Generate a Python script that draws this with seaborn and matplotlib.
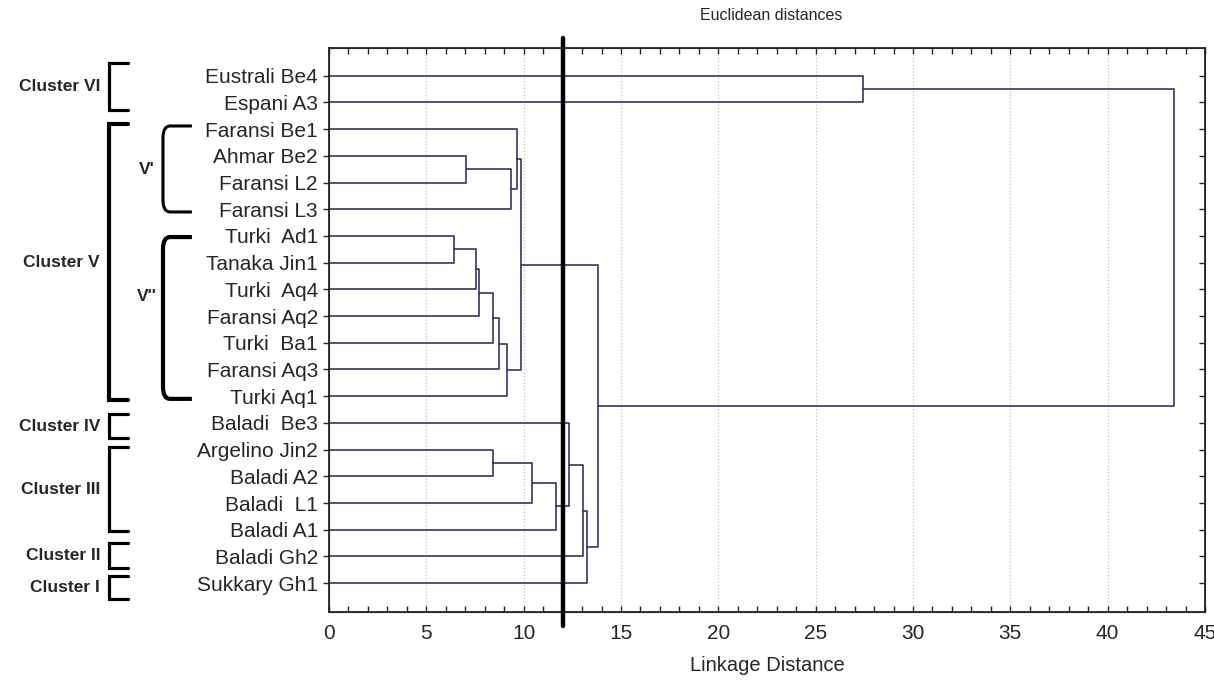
import matplotlib
matplotlib.use("Agg")
import pandas as pd
import matplotlib.pyplot as plt
import matplotlib.transforms as mtransforms
import seaborn as sns
from matplotlib import font_manager
from matplotlib.path import Path
from matplotlib.patches import PathPatch
from matplotlib.ticker import MultipleLocator

# leaves, top to bottom
leaves = [
    "Eustrali Be4", "Espani A3", "Faransi Be1", "Ahmar Be2", "Faransi L2",
    "Faransi L3", "Turki  Ad1", "Tanaka Jin1", "Turki  Aq4", "Faransi Aq2",
    "Turki  Ba1", "Faransi Aq3", "Turki Aq1", "Baladi  Be3", "Argelino Jin2",
    "Baladi A2", "Baladi  L1", "Baladi A1", "Baladi Gh2", "Sukkary Gh1",
]

# linkage: node n+k joins merge_left[k] and merge_right[k] at merge_height[k]
merge_left = [3, 20, 2, 6, 23, 24, 25, 26, 27, 22, 14, 30, 31, 13, 33, 34, 29, 0, 37]
merge_right = [4, 5, 21, 7, 8, 9, 10, 11, 12, 28, 15, 16, 17, 32, 18, 19, 35, 1, 36]
merge_height = [7.02, 9.33, 9.67, 6.40, 7.57, 7.69, 8.44, 8.73, 9.13, 9.86,
                8.44, 10.43, 11.64, 12.31, 13.06, 13.25, 13.82, 27.41, 43.42]

cut_distance = 12.0

cluster_names = ["Cluster VI", "Cluster V", "Cluster IV", "Cluster III", "Cluster II", "Cluster I"]
cluster_spans = [(0.52, 2.28), (2.81, 13.15), (13.67, 14.57), (14.91, 18.06), (18.5, 19.44), (19.74, 20.6)]
sub_names = ["V'", "V''"]
sub_spans = [(2.88, 6.1), (7.04, 13.1)]
sub_label_pos = [4.5, 9.28]

sns.set_style("white")
available = {f.name for f in font_manager.fontManager.ttflist}
narrow = "Liberation Sans Narrow" if "Liberation Sans Narrow" in available else "Liberation Sans"
plt.rcParams["font.family"] = ["Liberation Sans", "DejaVu Sans"]

# build the dendrogram segments
n = len(leaves)
ypos = {i: i + 1 for i in range(n)}
xpos = {i: 0.0 for i in range(n)}
rows = []
for k, (a, b, h) in enumerate(zip(merge_left, merge_right, merge_height)):
    rows += [(k, xpos[a], ypos[a]), (k, h, ypos[a]), (k, h, ypos[b]), (k, xpos[b], ypos[b])]
    ypos[n + k] = (ypos[a] + ypos[b]) / 2
    xpos[n + k] = h
df = pd.DataFrame(rows, columns=["merge", "distance", "leaf_pos"])

fig = plt.figure(figsize=(12.14, 6.81), dpi=100)
ax = fig.add_axes([0.2710, 0.1018, 0.7216, 0.8273])

ax.grid(False)
for g in range(5, 45, 5):
    ax.axvline(g, color="#c4c4c4", ls=":", lw=0.9, zorder=0)

sns.lineplot(data=df, x="distance", y="leaf_pos", units="merge", estimator=None,
             sort=False, color="#343463", lw=1.2, ax=ax)

ax.set_xlim(0, 45)
ax.set_ylim(21.07, -0.03)
ax.set_yticks(range(1, n + 1))
ax.set_yticklabels(leaves, fontsize=15, color="#262626")
ax.tick_params(axis="y", direction="out", length=4, width=1, pad=4, left=True, right=False)
ax.xaxis.set_major_locator(MultipleLocator(5))
ax.xaxis.set_minor_locator(MultipleLocator(1))
ax.tick_params(axis="x", which="both", direction="in", length=4, width=1,
               top=True, bottom=True, pad=9)
for lab in ax.get_xticklabels():
    lab.set_fontfamily(narrow)
    lab.set_fontsize(15)
ax.set_xlabel("Linkage Distance", fontsize=14.5, family=narrow, labelpad=9)
ax.set_ylabel("")
for sp in ax.spines.values():
    sp.set_visible(True)
    sp.set_color("black")
    sp.set_linewidth(1.1)

ax2 = ax.twinx()
ax2.set_ylim(ax.get_ylim())
ax2.set_yticks(range(1, n + 1))
ax2.tick_params(axis="y", direction="in", length=4, width=1, labelright=False)
ax2.grid(False)

# cut line
ax.axvline(cut_distance, ymin=-0.025, ymax=1.018, color="black", lw=3.2, clip_on=False, zorder=5)

fig.text(0.635, 1 - 15 / 681, "Euclidean distances", ha="center", va="center", fontsize=11.5)

blend = mtransforms.blended_transform_factory(ax.transAxes, ax.transData)

# cluster brackets
x_v, x_end = -0.2515, -0.2295
for name, (top, bot) in zip(cluster_names, cluster_spans):
    lw = 3.0 if name == "Cluster V" else 2.3
    ax.plot([x_end, x_v, x_v, x_end], [top, top, bot, bot], color="black", lw=lw,
            transform=blend, clip_on=False, solid_joinstyle="miter")
    ax.text(-0.2614, (top + bot) / 2, name, transform=blend, ha="right", va="center",
            fontsize=12.5, fontweight="bold")

# rounded sub-brackets
sx_v, sx_end, rx, ry = -0.1895, -0.1565, 0.008, 0.45
for name, (top, bot), ly, lw in zip(sub_names, sub_spans, sub_label_pos, [2.2, 3.0]):
    verts = [(sx_end, top), (sx_v + rx, top), (sx_v, top), (sx_v, top + ry),
             (sx_v, bot - ry), (sx_v, bot), (sx_v + rx, bot), (sx_end, bot)]
    codes = [Path.MOVETO, Path.LINETO, Path.CURVE3, Path.CURVE3,
             Path.LINETO, Path.CURVE3, Path.CURVE3, Path.LINETO]
    ax.add_patch(PathPatch(Path(verts, codes), transform=blend, fill=False,
                           lw=lw, color="black", clip_on=False))
    ax.text(-0.2075, ly, name, transform=blend, ha="center", va="center",
            fontsize=12.5, fontweight="bold")

fig.savefig("out.png", dpi=100)
